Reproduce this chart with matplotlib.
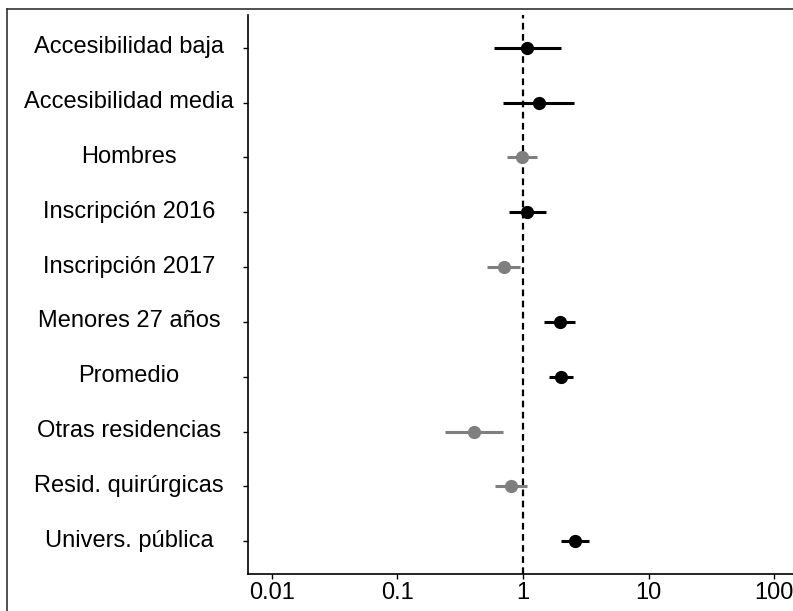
import matplotlib.pyplot as plt
from matplotlib.lines import Line2D
from matplotlib.transforms import ScaledTranslation

# datos (odds ratio e intervalos de confianza)
categorias = ['Accesibilidad baja', 'Accesibilidad media', 'Hombres',
              'Inscripción 2016', 'Inscripción 2017', 'Menores 27 años',
              'Promedio', 'Otras residencias', 'Resid. quirúrgicas',
              'Univers. pública']
estimado = [1.08, 1.34, 0.98, 1.08, 0.70, 1.98, 2.01, 0.41, 0.80, 2.61]
ic_inf = [0.59, 0.69, 0.745, 0.77, 0.515, 1.47, 1.61, 0.238, 0.60, 2.02]
ic_sup = [2.01, 2.56, 1.29, 1.53, 0.95, 2.61, 2.51, 0.69, 1.08, 3.38]
significativo = [True, True, False, True, False, True, True, False, False, True]
ticks_x = [0.01, 0.1, 1, 10, 100]
etiquetas_x = ['0.01', '0.1', '1', '10', '100']

plt.rcParams['font.family'] = ['Liberation Sans', 'DejaVu Sans']

fig = plt.figure(figsize=(7.93, 6.11), dpi=100)
ax = fig.add_axes([248 / 793, 37 / 611, 1 - 248 / 793, 559 / 611])

ax.axvline(1, color='black', lw=1.6, ls=(0, (3, 2)), zorder=1)

for i, cat in enumerate(categorias):
    col = 'black' if significativo[i] else '#7f7f7f'
    ax.plot([ic_inf[i], ic_sup[i]], [i, i], color=col, lw=2.2,
            solid_capstyle='butt', zorder=2)
    ax.plot(estimado[i], i, 'o', color=col, ms=8.5, zorder=3)

ax.set_xscale('log')
ax.set_xlim(0.00645, 141.6)
ax.set_ylim(9.6, -0.6)
ax.set_xticks(ticks_x)
ax.set_xticklabels(etiquetas_x)
ax.minorticks_off()
ax.set_yticks(range(len(categorias)))
ax.set_yticklabels(categorias, ha='center')

ax.tick_params(axis='y', length=3.6, width=1, pad=82, labelsize=17,
               colors='black')
ax.tick_params(axis='x', length=3.6, width=1, pad=2.5, labelsize=17,
               colors='black')
ax.spines['top'].set_visible(False)
ax.spines['right'].set_visible(False)
ax.spines['left'].set_linewidth(1.2)
ax.spines['bottom'].set_linewidth(1.2)

# las etiquetas quedan un poco por encima de su marca
desplazar = ScaledTranslation(0, 3 / 100, fig.dpi_scale_trans)
for lab in ax.get_yticklabels():
    lab.set_transform(lab.get_transform() + desplazar)

# marco de la figura (arriba e izquierda)
fig.add_artist(Line2D([7 / 793, 7 / 793], [0, 1 - 9 / 611],
                      transform=fig.transFigure, color='#333333', lw=1.2))
fig.add_artist(Line2D([7 / 793, 1], [1 - 9 / 611, 1 - 9 / 611],
                      transform=fig.transFigure, color='#333333', lw=1.2))

fig.savefig('out.png', dpi=100)
